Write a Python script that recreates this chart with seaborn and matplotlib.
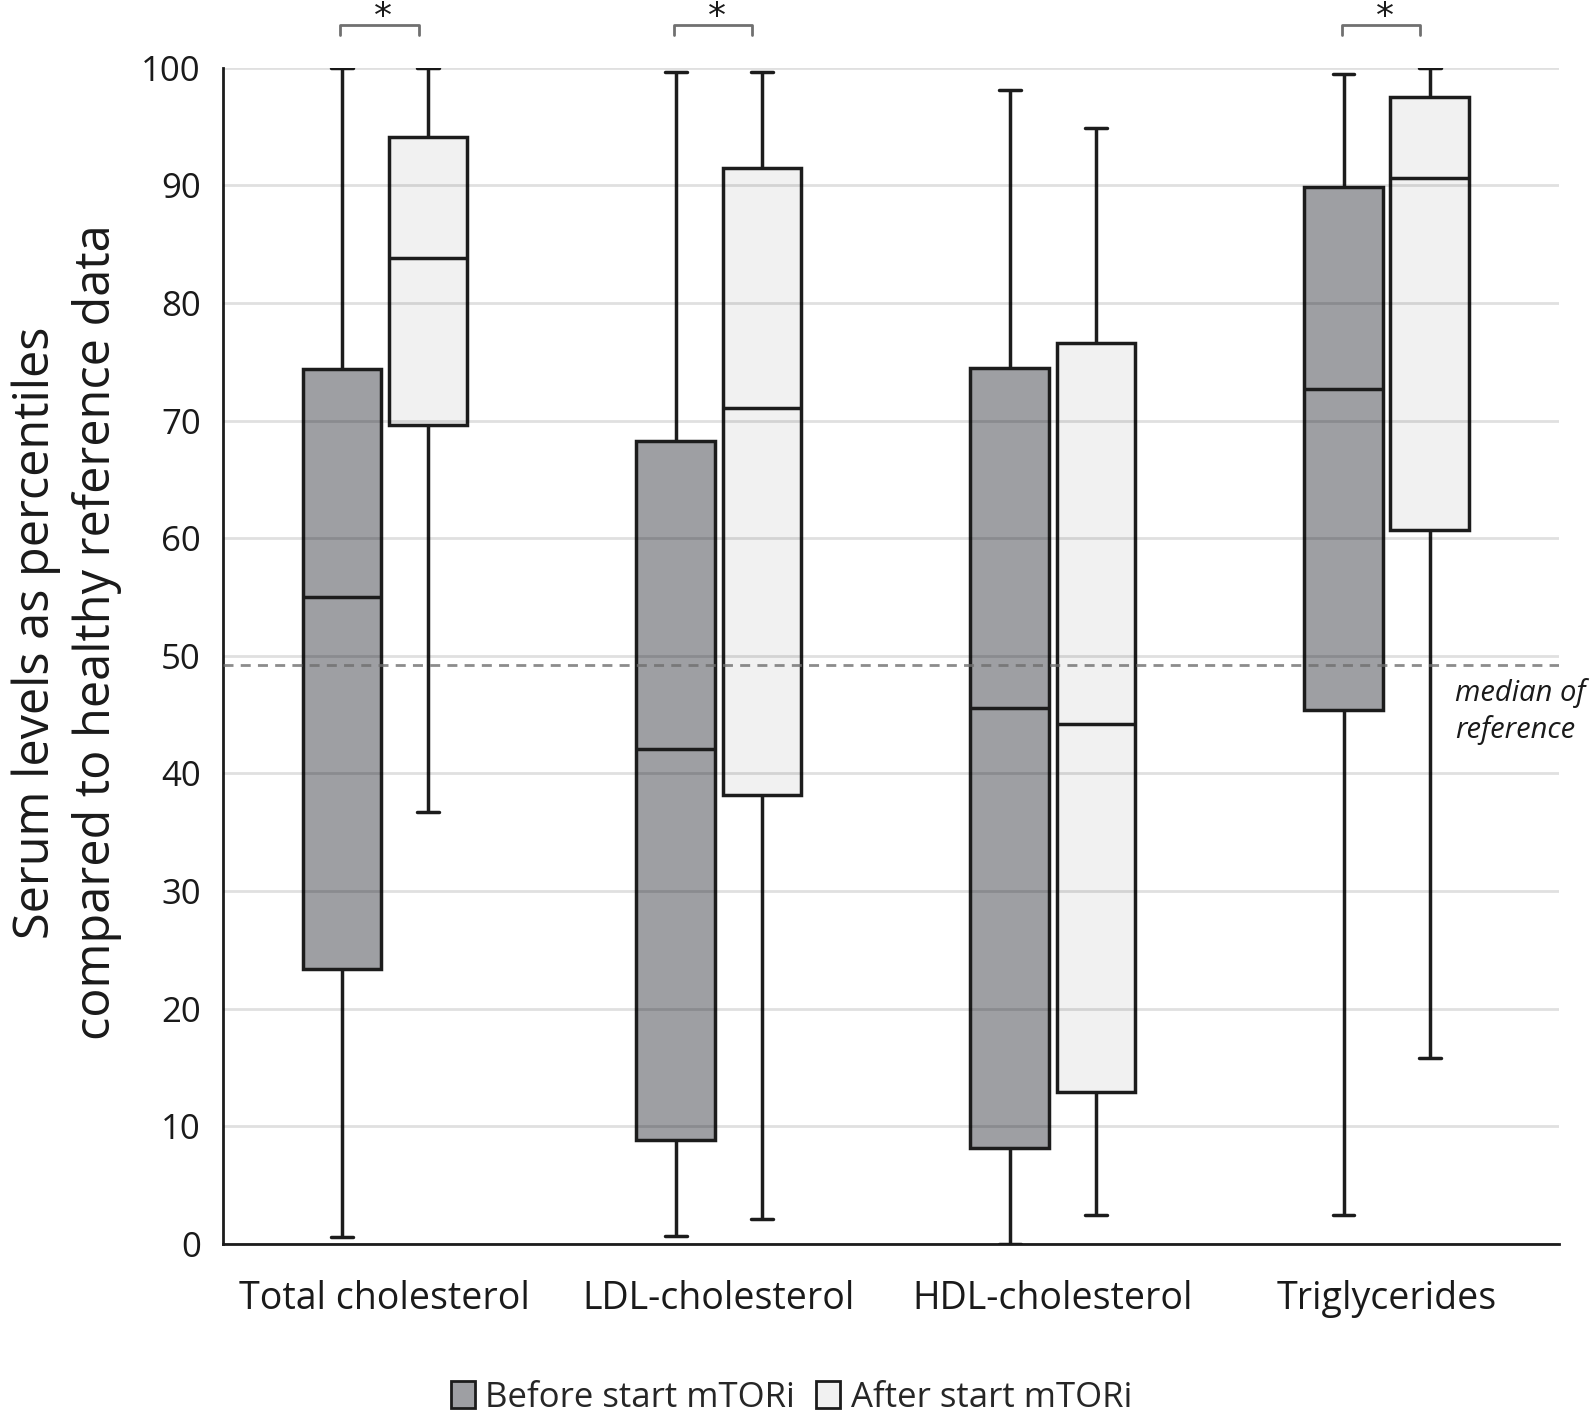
import numpy as np
import pandas as pd
import matplotlib
matplotlib.use("Agg")
import matplotlib.pyplot as plt
import seaborn as sns

# ---- data (percentiles: min, Q1, median, Q3, max) ----
categories = ["Total cholesterol", "LDL-cholesterol", "HDL-cholesterol", "Triglycerides"]
phases = ["Before start mTORi", "After start mTORi"]

before_min = [0.6, 0.65, 0.0, 2.5]
before_q1 = [23.4, 8.8, 8.2, 45.4]
before_med = [55.0, 42.1, 45.6, 72.7]
before_q3 = [74.4, 68.3, 74.5, 89.9]
before_max = [100.0, 99.6, 98.1, 99.5]

after_min = [36.7, 2.1, 2.5, 15.8]
after_q1 = [69.6, 38.2, 12.9, 60.7]
after_med = [83.8, 71.1, 44.2, 90.6]
after_q3 = [94.1, 91.5, 76.6, 97.5]
after_max = [100.0, 99.6, 94.9, 100.0]

reference_median = 49.2
significant = [True, True, False, True]
y_ticks = [0, 10, 20, 30, 40, 50, 60, 70, 80, 90, 100]

# ---- long-form table built from the lists ----
rows = []
for i, cat in enumerate(categories):
    for v in (before_min[i], before_q1[i], before_med[i], before_q3[i], before_max[i]):
        rows.append((cat, phases[0], v))
    for v in (after_min[i], after_q1[i], after_med[i], after_q3[i], after_max[i]):
        rows.append((cat, phases[1], v))
df = pd.DataFrame(rows, columns=["lipid", "phase", "value"])

sns.set_theme(style="white")
plt.rcParams["font.family"] = ["Open Sans", "DejaVu Sans"]

fig = plt.figure(figsize=(15.92, 14.12), dpi=100)
ax = fig.add_axes([0.140, 0.119, 0.839, 0.833])

sns.boxplot(
    data=df, x="lipid", y="value", hue="phase", order=categories, hue_order=phases,
    palette={phases[0]: "#9e9fa3", phases[1]: "#f1f1f1"},
    whis=(0, 100), width=0.516, gap=0.09, linecolor="#1c1c1c", linewidth=2.5,
    fliersize=0, saturation=1, ax=ax,
)

# narrower whisker caps (shrink the caps seaborn drew around their own centres)
box_w = 0.516 / 2 * (1 - 0.09)
for ln in ax.lines:
    xd = np.asarray(ln.get_xdata(), dtype=float)
    yd = np.asarray(ln.get_ydata(), dtype=float)
    if len(xd) == 2 and yd[0] == yd[1] and abs(xd[1] - xd[0]) < 0.7 * box_w:
        c = xd.mean()
        ln.set_xdata(c + (xd - c) * 0.56)

ax.set_ylim(0, 100)
ax.set_xlim(-0.485, 3.515)
ax.set_yticks(y_ticks)
ax.set_yticklabels([str(t) for t in y_ticks])
ax.tick_params(axis="y", length=0, pad=16, labelsize=25, labelcolor="#1a1a1a")
ax.tick_params(axis="x", length=0, pad=26, labelsize=27, labelcolor="#1a1a1a")
ax.set_xlabel("")
ax.set_ylabel("Serum levels as percentiles\ncompared to healthy reference data",
              fontsize=35, labelpad=14, color="#1a1a1a", linespacing=1.28)
ax.yaxis.label.set_y(0.52)

ax.yaxis.grid(True, color="black", alpha=0.12, lw=2)
ax.set_axisbelow(False)
for s in ["top", "right"]:
    ax.spines[s].set_visible(False)
for s in ["left", "bottom"]:
    ax.spines[s].set_color("#1c1c1c")
    ax.spines[s].set_linewidth(2.0)

# median of reference
ax.axhline(reference_median, color="#6f6f6f", alpha=0.8, lw=2, dashes=(3.6, 2.6), zorder=6)
ax.text(3.205, reference_median - 1.1, "median of\nreference", fontsize=21, style="italic",
        va="top", ha="left", color="#1a1a1a", linespacing=1.3, clip_on=False)

# significance brackets
for i, sig in enumerate(significant):
    if not sig:
        continue
    x0, x1 = i - 0.134, i + 0.101
    ax.plot([x0, x0, x1, x1], [102.8, 103.6, 103.6, 102.8], color="#707070", lw=2,
            clip_on=False)
    ax.text(i - 0.005, 104.3, "*", ha="center", va="center", fontsize=26,
            family="DejaVu Sans", color="#1a1a1a", clip_on=False)

# legend at bottom
handles, labels = ax.get_legend_handles_labels()
ax.get_legend().remove()
for h in handles:
    h.set_edgecolor("#1c1c1c")
    h.set_linewidth(2.0)
fig.legend(handles, labels, loc="lower center", bbox_to_anchor=(0.497, -0.024), ncol=2,
           frameon=False, fontsize=25, handlelength=0.7, handleheight=0.85,
           handletextpad=0.3, columnspacing=0.6)

fig.savefig("out.png", dpi=100)
